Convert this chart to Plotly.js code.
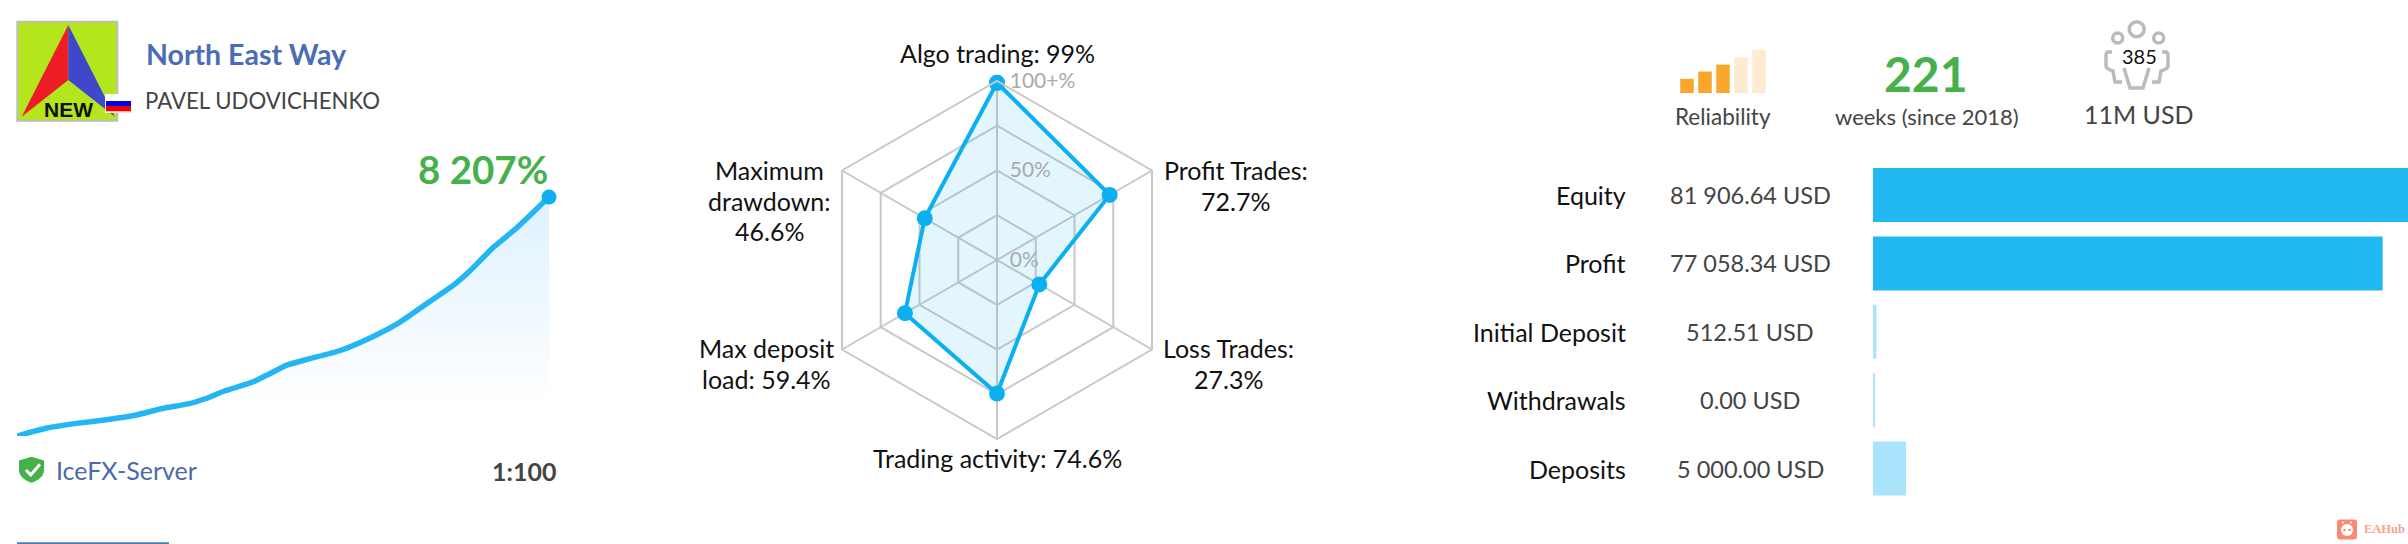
<!DOCTYPE html>
<html><head><meta charset="utf-8">
<script src="https://cdn.plot.ly/plotly-3.0.1.min.js"></script>
<style>html,body{margin:0;padding:0;background:#fff}#c{width:2408px;height:544px}</style>
</head><body><div id="c"></div>
<script>
// ---- data ----
const growthWeeks = [0,12.5,25.6,37.1,48.6,61.7,71.6,78.2,86.4,97.9,104.4,111.8,120.9,134,147.1,158.6,170.1,181.6,188.2,198,207.9,221];
const growthPct   = [0,275,442,561,705,968,1111,1278,1553,1852,2114,2425,2640,2927,3381,3882,4540,5197,5674,6487,7168,8207];
const radarAxes   = ['Algo trading','Profit Trades','Loss Trades','Trading activity','Max deposit load','Maximum drawdown'];
const radarValues = [99,72.7,27.3,74.6,59.4,46.6];
const radarTickVals = [0,25,50,75,100];
const radarTickText = ['0%','','50%','','100+%'];
const moneyLabels = ['Equity','Profit','Initial Deposit','Withdrawals','Deposits'];
const moneyValues = [81906.64,77058.34,512.51,0,5000];
const moneyText   = ['81 906.64 USD','77 058.34 USD','512.51 USD','0.00 USD','5 000.00 USD'];
const reliabilityLevels = [1,2,3,4,5];
const reliabilityValues = [33,50,66,83,100];

// ---- layout helpers ----
const W=2408,H=544,FONT='Lato, "Open Sans", sans-serif';
const X=p=>p/W, Y=p=>1-p/H;
const pth=s=>{let i=0;return s.replace(/-?\d+(\.\d+)?/g,m=>{const v=(i++%2===0)?X(+m):Y(+m);return v.toFixed(6);});};
const txt=(text,x,y,size,color,opt={})=>Object.assign({text,x:X(x),y:Y(y),xref:'paper',yref:'paper',showarrow:false,
  xanchor:'center',yanchor:'middle',font:{family:FONT,size,color}},opt);
const rect=(x0,y0,x1,y1,fill,line)=>({type:'rect',xref:'paper',yref:'paper',x0:X(x0),x1:X(x1),y0:Y(y0),y1:Y(y1),fillcolor:fill,line:line||{width:0},layer:'above'});
const path=(d,fill,line)=>({type:'path',xref:'paper',yref:'paper',path:pth(d),fillcolor:fill||'rgba(0,0,0,0)',line:line||{width:0},layer:'above'});
const circ=(cx,cy,r,fill,line)=>({type:'circle',xref:'paper',yref:'paper',x0:X(cx-r),x1:X(cx+r),y0:Y(cy+r),y1:Y(cy-r),fillcolor:fill||'rgba(0,0,0,0)',line:line||{width:0},layer:'above'});

const traces=[
 {type:'scatter',mode:'lines',x:growthWeeks,y:growthPct,xaxis:'x',yaxis:'y',cliponaxis:false,
  line:{color:'#23b6f3',width:5.5,shape:'spline',smoothing:0.5},fill:'tozeroy',fillcolor:'rgba(0,0,0,0)',
  fillgradient:{type:'vertical',start:8207,stop:1000,colorscale:[[0,'rgba(222,241,254,1)'],[1,'rgba(255,255,255,1)']]},hoverinfo:'skip'},
 {type:'scatter',mode:'markers',x:growthWeeks.slice(-1),y:growthPct.slice(-1),xaxis:'x',yaxis:'y',cliponaxis:false,
  marker:{color:'#0cb0f0',size:15},hoverinfo:'skip'},
 {type:'scatterpolar',mode:'lines+markers',subplot:'polar',r:radarValues.concat(radarValues[0]),theta:radarAxes.concat(radarAxes[0]),
  fill:'toself',fillcolor:'rgba(0,176,240,0.11)',line:{color:'#0cb0f0',width:4},marker:{color:'#0cb0f0',size:16},hoverinfo:'skip',cliponaxis:false},
 {type:'bar',orientation:'h',x:moneyValues,y:moneyLabels,xaxis:'x2',yaxis:'y2',width:0.79,
  marker:{color:['#22b8f2','#22b8f2','#a9e3fc','#a9e3fc','#a9e3fc'],line:{color:'#a9e3fc',width:[0,0,0,4,0]}},hoverinfo:'skip'},
 {type:'bar',x:reliabilityLevels,y:reliabilityValues,xaxis:'x3',yaxis:'y3',width:0.75,
  marker:{color:['#f9a72b','#f9a72b','#f9a72b','#fdebd0','#fdebd0']},hoverinfo:'skip'}
];

const radarLabels=[
 [['Algo trading: 99%'],997,53],
 [['Profit Trades:','72.7%'],1235.5,170],
 [['Loss Trades:','27.3%'],1228.6,348],
 [['Trading activity: 74.6%'],997,458],
 [['Max deposit','load: 59.4%'],766,348],
 [['Maximum','drawdown:','46.6%'],769.5,170]
];

const annotations=[
 txt('<b>North East Way</b>',143.5,54,28.5,'#4a6eb5',{xanchor:'left'}),
 txt('PAVEL UDOVICHENKO',143,100.7,22.2,'#444444',{xanchor:'left'}),
 txt('<b>NEW</b>',68.3,109,21,'#111111',{font:{family:'Liberation Sans',size:21,color:'#111'}}),
 txt('<b>8 207%</b>',550,169,38.5,'#46b04a',{xanchor:'right'}),
 txt('IceFX-Server',54,470,25,'#4a6ba8',{xanchor:'left'}),
 txt('<b>1:100</b>',557.5,470.5,25,'#444444',{xanchor:'right'}),
 txt('Reliability',1723,116,22.5,'#444444'),
 txt('<b>221</b>',1926,74,48,'#46b04a'),
 txt('weeks (since 2018)',1927,116,22,'#444444'),
 txt('385',2139,55.5,20,'#111111'),
 txt('11M USD',2139,114,25,'#444444'),
 txt('<b>EAHub</b>',2362,529,12.5,'#f9a08e',{xanchor:'left',font:{family:'Liberation Serif',size:12.5,color:'#f9a08e'}})
];
radarLabels.forEach(a=>a[0].forEach((t,i)=>annotations.push(txt(t,a[1],a[2]+i*30.5,25,'#111111'))));
moneyLabels.forEach((l,i)=>{
  annotations.push({text:l,x:X(1628),xref:'paper',y:l,yref:'y2',showarrow:false,xanchor:'right',yanchor:'middle',font:{family:FONT,size:25,color:'#111'}});
  annotations.push({text:moneyText[i],x:X(1750),xref:'paper',y:l,yref:'y2',showarrow:false,xanchor:'center',yanchor:'middle',font:{family:FONT,size:23.5,color:'#444'}});
});

const ic={color:'#bbbbbb',width:3.5};
const shapes=[
 // logo
 rect(17.3,21.7,117.3,120.7,'#b4e61e',{color:'#bdbdbd',width:2}),
 path('M68.3 25 L21.7 116.7 L68.3 80 Z','#ee1c25'),
 path('M68.3 25 L115 116.7 L68.3 80 Z','#3f48cc'),
 // flag
 rect(105,94,132,113,'#ffffff'),
 rect(106,101,131,106,'#0000e6'),
 rect(106,106,131,111,'#f00000'),
 rect(106,111,131,112.5,'#ffb0b0'),
 // server shield
 path('M31.5 456.7 L44 460.5 L44 470 C44 477 37 481 31.5 482.7 C26 481 19 477 19 470 L19 460.5 Z','#46b04a'),
 path('M26 470 L30.7 475 L40 464.3','rgba(0,0,0,0)',{color:'#fff',width:3}),
 // bottom rule
 {type:'line',xref:'paper',yref:'paper',x0:X(17),x1:X(169),y0:Y(543.3),y1:Y(543.3),line:{color:'#4a7ab8',width:2}},
 // subscribers icon
 circ(2136.7,29.3,7.5,null,ic),
 circ(2117.7,38,5,null,ic),
 circ(2158.7,38,5,null,ic),
 path('M2124 68 L2130 88 L2143 88 L2149 68','rgba(0,0,0,0)',ic),
 path('M2112 52 L2108 52 C2106 52 2106 54 2106 56 L2106 66 C2106 68 2110 70 2113 71 L2115 82 L2122 82','rgba(0,0,0,0)',ic),
 path('M2162 52 L2166 52 C2168 52 2168 54 2168 56 L2168 66 C2168 68 2164 70 2161 71 L2159 82 L2152 82','rgba(0,0,0,0)',ic),
 // watermark icon
 path('M2340 519.5 L2354 519.5 C2356 519.5 2357 520.5 2357 522.5 L2357 536.5 C2357 538.5 2356 539.5 2354 539.5 L2340 539.5 C2338 539.5 2337 538.5 2337 536.5 L2337 522.5 C2337 520.5 2338 519.5 2340 519.5 Z','#fb8a72'),
 circ(2347,530,6,'#ffffff'),
 circ(2344.5,530,1.3,'#fb8a72'),
 circ(2349.5,530,1.3,'#fb8a72'),
 circ(2343,522.5,1,'#ffffff'),
 circ(2351,522.5,1,'#ffffff')
];

const hidden={visible:false,fixedrange:true};
const layout={
 width:W,height:H,margin:{l:0,r:0,t:0,b:0},autosize:false,paper_bgcolor:'#fff',plot_bgcolor:'rgba(0,0,0,0)',showlegend:false,
 font:{family:FONT},
 xaxis:Object.assign({domain:[X(17),X(549)],range:[0,221],anchor:'y'},hidden),
 yaxis:Object.assign({domain:[Y(436),Y(197)],range:[0,8207],anchor:'x'},hidden),
 xaxis2:Object.assign({domain:[X(1873),1],range:[0,80892],anchor:'y2'},hidden),
 yaxis2:Object.assign({domain:[Y(502.8),Y(160.8)],type:'category',categoryorder:'array',categoryarray:moneyLabels,autorange:'reversed',anchor:'x2'},hidden),
 xaxis3:Object.assign({domain:[X(1678),X(1768)],range:[0.5,5.5],anchor:'y3'},hidden),
 yaxis3:Object.assign({domain:[Y(93),Y(50)],range:[0,100],anchor:'x3'},hidden),
 polar:{
  domain:{x:[X(997-179),X(997+179)],y:[Y(260+179),Y(260-179)]},
  gridshape:'linear',bgcolor:'rgba(0,0,0,0)',
  angularaxis:{type:'category',categoryorder:'array',categoryarray:radarAxes,direction:'clockwise',rotation:90,
    showticklabels:false,ticks:'',showline:true,linecolor:'#c8c8c8',linewidth:2,gridcolor:'#c8c8c8',gridwidth:2},
  radialaxis:{range:[0,100],angle:90,tickangle:90,tickmode:'array',tickvals:radarTickVals,ticktext:radarTickText,side:'clockwise',
    showline:false,ticks:'outside',ticklen:8,tickwidth:1,tickcolor:'rgba(0,0,0,0)',gridcolor:'#c8c8c8',gridwidth:2,tickfont:{family:FONT,size:21,color:'#aaaaaa'}}
 },
 annotations,shapes
};
Plotly.newPlot('c',traces,layout,{displayModeBar:false,staticPlot:true});
</script></body></html>
